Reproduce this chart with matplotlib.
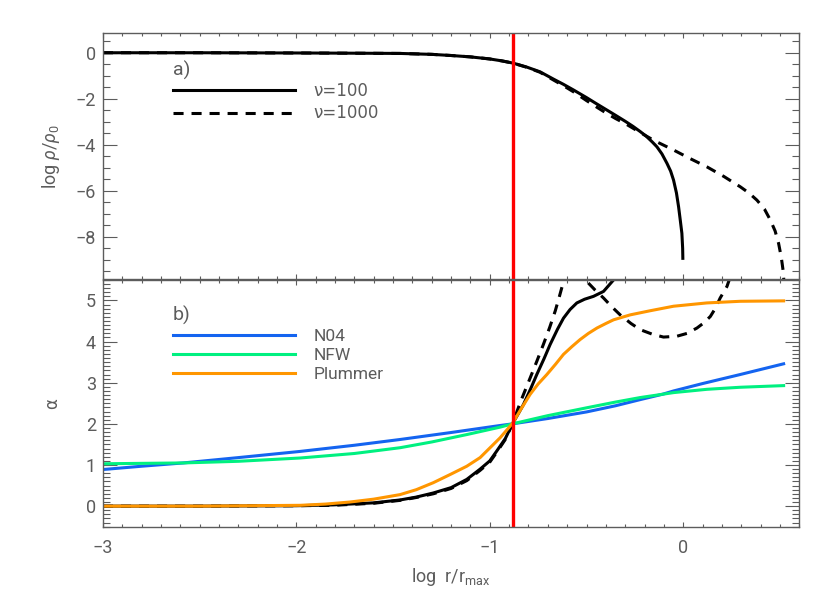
import matplotlib
matplotlib.use("Agg")
import matplotlib.pyplot as plt
import numpy as np
from matplotlib.ticker import MultipleLocator
from matplotlib.lines import Line2D

# panel a) log density, nu=100 and nu=1000
x_rho100 = [-3.0, -2.5, -2.0, -1.7, -1.464, -1.3, -1.2, -1.1, -1.0, -0.94, -0.88, -0.81, -0.74,
            -0.67, -0.62, -0.567, -0.5, -0.45, -0.395, -0.35, -0.30, -0.26, -0.222, -0.19, -0.16,
            -0.136, -0.11, -0.084, -0.065, -0.05, -0.035, -0.024, -0.015, -0.007, -0.003, -0.002]
y_rho100 = [0.0, 0.0, -0.01, -0.02, -0.03, -0.07, -0.12, -0.18, -0.27, -0.35, -0.45, -0.62, -0.83,
            -1.15, -1.37, -1.62, -1.95, -2.21, -2.49, -2.72, -2.98, -3.2, -3.43, -3.64, -3.88,
            -4.09, -4.4, -4.81, -5.15, -5.54, -6.1, -6.70, -7.3, -7.85, -8.5, -8.94]
x_rho1000 = [-3.0, -2.5, -2.0, -1.7, -1.464, -1.3, -1.2, -1.1, -1.0, -0.94, -0.88, -0.81, -0.74,
             -0.67, -0.62, -0.567, -0.5, -0.45, -0.395, -0.35, -0.30, -0.26, -0.222, -0.15, -0.05,
             0.035, 0.122, 0.21, 0.295, 0.34, 0.381, 0.42, 0.45, 0.475, 0.493, 0.507, 0.516, 0.524]
y_rho1000 = [0.0, 0.0, -0.01, -0.02, -0.03, -0.07, -0.12, -0.18, -0.27, -0.35, -0.45, -0.63, -0.85,
             -1.19, -1.43, -1.70, -2.08, -2.35, -2.64, -2.86, -3.08, -3.28, -3.47, -3.82, -4.23,
             -4.6, -4.96, -5.38, -5.83, -6.1, -6.41, -6.8, -7.27, -7.75, -8.29, -8.9, -9.45, -10.3]

# panel b) logarithmic slope alpha
x_a100 = [-3.0, -2.5, -2.0, -1.81, -1.6, -1.464, -1.38, -1.292, -1.2, -1.119, -1.05, -1.0, -0.964,
          -0.92, -0.883, -0.85, -0.826, -0.79, -0.757, -0.72, -0.688, -0.65, -0.619, -0.585,
          -0.55, -0.51, -0.464, -0.412, -0.36, -0.3]
y_a100 = [0.0, 0.0, 0.01, 0.03, 0.08, 0.15, 0.22, 0.32, 0.45, 0.65, 0.90, 1.10, 1.34,
          1.64, 2.0, 2.27, 2.47, 2.84, 3.20, 3.58, 3.93, 4.30, 4.57, 4.78,
          4.94, 5.03, 5.10, 5.22, 5.5, 5.9]
x_a1000 = [-3.0, -2.5, -2.0, -1.81, -1.6, -1.464, -1.38, -1.292, -1.2, -1.119, -1.05, -1.0, -0.964,
           -0.92, -0.883, -0.84, -0.791, -0.757, -0.723, -0.69, -0.662, -0.64, -0.619, -0.59,
           -0.56, -0.53, -0.498, -0.455, -0.412, -0.37, -0.326, -0.27, -0.222, -0.16, -0.102,
           -0.033, 0.02, 0.071, 0.105, 0.140, 0.165, 0.191, 0.226, 0.26]
y_a1000 = [0.0, 0.0, 0.01, 0.02, 0.07, 0.14, 0.21, 0.30, 0.43, 0.62, 0.87, 1.07, 1.31,
           1.62, 2.0, 2.55, 3.12, 3.52, 3.93, 4.35, 4.74, 5.1, 5.46, 5.7,
           5.78, 5.68, 5.46, 5.25, 5.06, 4.85, 4.65, 4.44, 4.29, 4.18, 4.11,
           4.13, 4.2, 4.33, 4.45, 4.61, 4.8, 5.06, 5.34, 5.8]
x_n04 = [-3.0, -2.8, -2.585, -2.3, -1.981, -1.7, -1.464, -1.2, -0.947, -0.883, -0.7, -0.5,
         -0.35, -0.222, -0.107, -0.05, 0.1, 0.295, 0.519]
y_n04 = [0.89, 0.97, 1.05, 1.18, 1.33, 1.48, 1.62, 1.79, 1.96, 2.0, 2.13, 2.29,
         2.44, 2.59, 2.72, 2.80, 2.98, 3.20, 3.46]
x_nfw = [-3.0, -2.8, -2.585, -2.3, -1.981, -1.7, -1.464, -1.3, -1.119, -0.947, -0.883, -0.7,
         -0.5, -0.35, -0.222, -0.107, -0.05, 0.122, 0.295, 0.519]
y_nfw = [1.03, 1.04, 1.05, 1.09, 1.17, 1.28, 1.42, 1.56, 1.74, 1.92, 2.0, 2.2,
         2.39, 2.53, 2.64, 2.72, 2.76, 2.84, 2.89, 2.93]
x_plum = [-3.0, -2.5, -1.98, -1.85, -1.723, -1.6, -1.464, -1.38, -1.292, -1.2, -1.119, -1.05,
          -0.947, -0.883, -0.84, -0.791, -0.75, -0.705, -0.66, -0.619, -0.575, -0.533, -0.49,
          -0.446, -0.40, -0.36, -0.274, -0.171, -0.05, 0.122, 0.295, 0.519]
y_plum = [0.0, 0.0, 0.02, 0.05, 0.10, 0.17, 0.28, 0.40, 0.57, 0.78, 0.97, 1.18,
          1.66, 2.01, 2.35, 2.72, 2.97, 3.20, 3.45, 3.69, 3.88, 4.05, 4.2,
          4.33, 4.44, 4.53, 4.65, 4.75, 4.86, 4.94, 4.98, 4.99]
r_mark = -0.88

gray = '#5c5c5c'
plt.rcParams['font.family'] = ['Roboto', 'DejaVu Sans']
plt.rcParams['mathtext.fontset'] = 'custom'
plt.rcParams['mathtext.rm'] = 'Roboto'
plt.rcParams['mathtext.it'] = 'Roboto:italic'

fig = plt.figure(figsize=(8.3, 5.93), dpi=100)
ax1 = fig.add_axes([0.124, 0.5287, 0.839, 0.4157])
ax2 = fig.add_axes([0.124, 0.1118, 0.839, 0.4162])

lw = 2.2
dash = (3.3, 2.6)
ax1.plot(x_rho100, y_rho100, color='k', lw=lw)
ax1.plot(x_rho1000, y_rho1000, color='k', lw=lw, dashes=dash)
ax1.axvline(r_mark, color='#ff0000', lw=2.4)

ax2.plot(x_a100, y_a100, color='k', lw=lw)
ax2.plot(x_a1000, y_a1000, color='k', lw=lw, dashes=dash)
ax2.plot(x_n04, y_n04, color='#1464f0', lw=lw)
ax2.plot(x_nfw, y_nfw, color='#00f080', lw=lw)
ax2.plot(x_plum, y_plum, color='#ff9600', lw=lw)
ax2.axvline(r_mark, color='#ff0000', lw=2.4)

ax1.set_xlim(-3, 0.6)
ax1.set_ylim(-9.86, 0.86)
ax2.set_xlim(-3, 0.6)
ax2.set_ylim(-0.5, 5.5)

ax1.yaxis.set_major_locator(MultipleLocator(2))
ax1.yaxis.set_minor_locator(MultipleLocator(0.5))
ax2.yaxis.set_major_locator(MultipleLocator(1))
ax2.yaxis.set_minor_locator(MultipleLocator(0.1))
for ax in (ax1, ax2):
    ax.xaxis.set_major_locator(MultipleLocator(1))
    ax.xaxis.set_minor_locator(MultipleLocator(0.1))
    ax.tick_params(which='both', direction='in', top=True, right=True, color=gray,
                   labelcolor=gray, labelsize=13, width=0.8)
    ax.tick_params(axis='y', which='major', length=10, pad=5)
    ax.tick_params(axis='y', which='minor', length=5)
    ax.tick_params(axis='x', which='major', length=3.6, pad=9)
    ax.tick_params(axis='x', which='minor', length=2)
    for s in ax.spines.values():
        s.set_color(gray)
        s.set_linewidth(1.0)
ax1.tick_params(axis='x', labelbottom=False)

ax1.set_ylabel(r'log $\rho/\rho_0$', color=gray, fontsize=13, labelpad=10)
ax2.set_ylabel('α', color=gray, fontsize=12, labelpad=18, family=['DejaVu Sans'])
ax2.set_xlabel(r'log  r/r$_{\rm max}$', color=gray, fontsize=13, labelpad=6)

ax1.text(0.1006, 0.85, 'a)', transform=ax1.transAxes, color=gray, fontsize=14, va='center')
h1 = [Line2D([], [], color='k', lw=lw), Line2D([], [], color='k', lw=lw, dashes=dash)]
ax1.legend(h1, ['ν=100', 'ν=1000'], loc='upper left', bbox_to_anchor=(0.1006, 0.80),
           frameon=False, prop={'family': ['DejaVu Sans'], 'size': 12}, labelcolor=gray,
           handlelength=7.3, handletextpad=1.1,
           borderpad=0, borderaxespad=0, labelspacing=0.25)

ax2.text(0.1006, 0.858, 'b)', transform=ax2.transAxes, color=gray, fontsize=14, va='center')
h2 = [Line2D([], [], color='#1464f0', lw=lw), Line2D([], [], color='#00f080', lw=lw),
      Line2D([], [], color='#ff9600', lw=lw)]
ax2.legend(h2, ['N04', 'NFW', 'Plummer'], loc='upper left', bbox_to_anchor=(0.1006, 0.80),
           frameon=False, fontsize=12.5, labelcolor=gray, handlelength=7.0, handletextpad=1.1,
           borderpad=0, borderaxespad=0, labelspacing=0.2)

fig.savefig('out.png', dpi=100)
